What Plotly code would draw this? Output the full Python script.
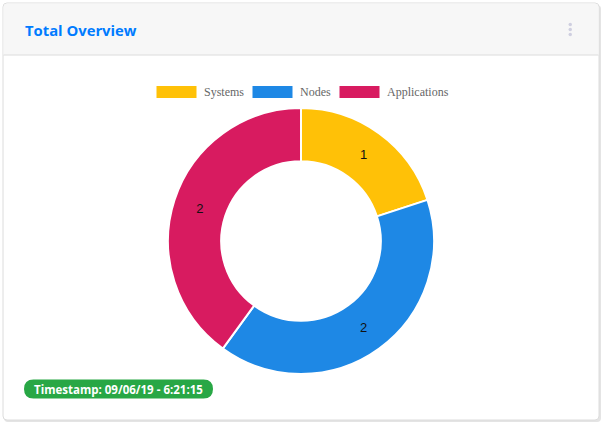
import plotly.graph_objects as go

# ---- data ----
categories = ["Systems", "Nodes", "Applications"]
values = [1, 2, 2]
colors = ["#FFC107", "#1E88E5", "#D81B60"]
title_text = "Total Overview"
timestamp_text = "Timestamp: 09/06/19 - 6:21:15"

W, H = 603, 426


def px(x):
    return x / W


def py(y):
    return 1 - y / H


def rounded_rect(x0, y0, x1, y1, r, top=True, bottom=True):
    rx, ry = r / W, r / H
    X0, X1 = px(x0), px(x1)
    Y0, Y1 = py(y0), py(y1)  # Y0 top (larger), Y1 bottom
    rt = (rx, ry) if top else (0, 0)
    rb = (rx, ry) if bottom else (0, 0)
    p = f"M {X0+rt[0]},{Y0} L {X1-rt[0]},{Y0} Q {X1},{Y0} {X1},{Y0-rt[1]} "
    p += f"L {X1},{Y1+rb[1]} Q {X1},{Y1} {X1-rb[0]},{Y1} "
    p += f"L {X0+rb[0]},{Y1} Q {X0},{Y1} {X0},{Y1+rb[1]} "
    p += f"L {X0},{Y0-rt[1]} Q {X0},{Y0} {X0+rt[0]},{Y0} Z"
    return p


fig = go.Figure()

cx, cy, R = 301, 241, 133
fig.add_trace(go.Pie(
    labels=categories,
    values=values,
    hole=0.6,
    sort=False,
    direction="clockwise",
    rotation=0,
    marker=dict(colors=colors, line=dict(color="white", width=2)),
    textinfo="value",
    textposition="inside",
    insidetextorientation="horizontal",
    textfont=dict(family="Arial, Liberation Sans, sans-serif", size=13, color="#111"),
    domain=dict(x=[px(cx - R), px(cx + R)], y=[py(cy + R), py(cy - R)]),
    showlegend=False,
    hoverinfo="label+value",
))

shapes = []
# card shadow
shapes.append(dict(type="path", path=rounded_rect(4, 5, 601, 422, 4), xref="paper", yref="paper",
                   fillcolor="#e4e4e4", line=dict(width=0), layer="below"))
# card body
shapes.append(dict(type="path", path=rounded_rect(3, 3, 599, 420, 4), xref="paper", yref="paper",
                   fillcolor="white", line=dict(color="#dcdcdc", width=1), layer="below"))
# header
shapes.append(dict(type="path", path=rounded_rect(3.5, 3.5, 598.5, 55, 4, bottom=False), xref="paper", yref="paper",
                   fillcolor="#f7f7f7", line=dict(width=0), layer="below"))
shapes.append(dict(type="line", x0=px(3.5), x1=px(598.5), y0=py(55), y1=py(55), xref="paper", yref="paper",
                   line=dict(color="#dcdcdc", width=1), layer="below"))
# kebab dots
for yy in (24.5, 29.5, 34.5):
    shapes.append(dict(type="circle", xref="paper", yref="paper",
                       x0=px(568.5), x1=px(572), y0=py(yy - 1.8), y1=py(yy + 1.8),
                       fillcolor="#cfcfe0", line=dict(width=0), layer="below"))

annotations = [
    dict(text=f"<b>{title_text}</b>", x=px(22.5), y=py(30.5), xref="paper", yref="paper",
         xanchor="left", yanchor="middle", showarrow=False,
         font=dict(family="Open Sans, sans-serif", size=14.8, color="#007bff")),
]

# legend (manual, to get wide rectangular swatches)
legend_boxes = [156.5, 252.5, 339.5]
for name, col, bx in zip(categories, colors, legend_boxes):
    shapes.append(dict(type="rect", xref="paper", yref="paper",
                       x0=px(bx), x1=px(bx + 40), y0=py(98), y1=py(86),
                       fillcolor=col, line=dict(width=0)))
    annotations.append(dict(text=name, x=px(bx + 45), y=py(91.5), xref="paper", yref="paper",
                            xanchor="left", yanchor="middle", showarrow=False,
                            font=dict(family="Liberation Serif, Times New Roman, serif", size=12, color="#666666")))

# timestamp badge
shapes.append(dict(type="path", path=rounded_rect(24, 379.5, 213, 398.5, 9.5), xref="paper", yref="paper",
                   fillcolor="#28a745", line=dict(width=0)))
annotations.append(dict(text=f"<b>{timestamp_text}</b>", x=px(118.5), y=py(389), xref="paper", yref="paper",
                        xanchor="center", yanchor="middle", showarrow=False,
                        font=dict(family="Open Sans, sans-serif", size=11.5, color="white")))

fig.update_layout(
    width=W, height=H,
    margin=dict(l=0, r=0, t=0, b=0),
    paper_bgcolor="white",
    plot_bgcolor="white",
    shapes=shapes,
    annotations=annotations,
    showlegend=False,
)

fig.write_html("out.html")
